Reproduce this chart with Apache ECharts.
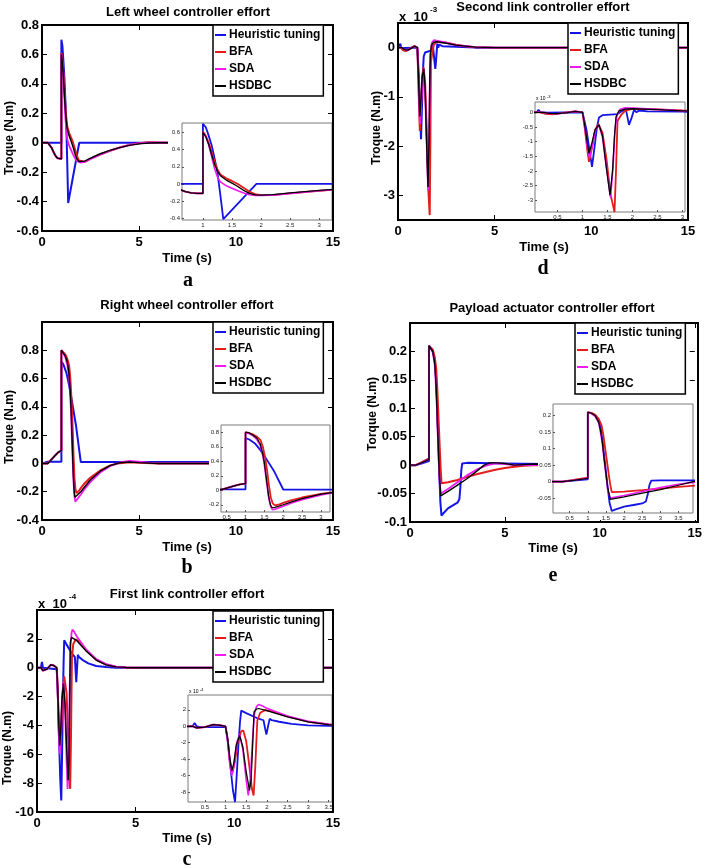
<!DOCTYPE html>
<html><head><meta charset="utf-8">
<script src="https://cdn.jsdelivr.net/npm/echarts@6/dist/echarts.min.js"></script>
<style>html,body{margin:0;padding:0;background:#fff}#c{width:705px;height:868px}</style>
</head><body><div id="c"></div>
<script>
// ---------------- data ----------------
const seriesNames = ['Heuristic tuning', 'BFA', 'SDA', 'HSDBC'];
const mainXTicks = [0, 5, 10, 15];

// (a) Left wheel controller effort
const aHeur = [[0,0],[1,0],[1,0.70],[1.05,0.66],[1.1,0.56],[1.15,0.45],[1.2,0.3],[1.25,0.13],[1.3,-0.13],[1.35,-0.41],[1.92,0],[15,0]];
const aBFA = [[0,0],[0.3,0],[0.4,-0.012],[0.5,-0.035],[0.6,-0.065],[0.7,-0.09],[0.8,-0.105],[0.9,-0.11],[1,-0.11],[1,0.61],[1.05,0.56],[1.1,0.48],[1.15,0.37],[1.2,0.26],[1.25,0.17],[1.3,0.11],[1.4,0.065],[1.5,0.035],[1.6,0],[1.7,-0.045],[1.8,-0.09],[1.9,-0.12],[2,-0.13],[2.2,-0.13],[2.5,-0.11],[3,-0.08],[3.5,-0.055],[4,-0.033],[4.5,-0.015],[5,-0.003],[5.5,0.003],[6,0.002],[6.5,0],[15,0]];
const aSDA = [[0,0],[0.3,0],[0.4,-0.012],[0.5,-0.035],[0.6,-0.065],[0.7,-0.09],[0.8,-0.105],[0.9,-0.11],[1,-0.11],[1,0.6],[1.05,0.55],[1.1,0.45],[1.15,0.32],[1.2,0.18],[1.25,0.08],[1.3,0.025],[1.4,-0.02],[1.5,-0.05],[1.6,-0.08],[1.7,-0.105],[1.8,-0.125],[1.9,-0.135],[2,-0.135],[2.2,-0.13],[2.5,-0.11],[3,-0.08],[3.5,-0.055],[4,-0.033],[4.5,-0.015],[5,-0.004],[5.5,0.002],[6,0.001],[6.5,0],[15,0]];
const aHSDBC = [[0,0],[0.3,0],[0.4,-0.012],[0.5,-0.035],[0.6,-0.065],[0.7,-0.09],[0.8,-0.105],[0.9,-0.11],[1,-0.11],[1,0.6],[1.05,0.55],[1.1,0.46],[1.15,0.34],[1.2,0.23],[1.25,0.15],[1.3,0.095],[1.4,0.045],[1.5,0.01],[1.6,-0.03],[1.7,-0.075],[1.8,-0.11],[1.9,-0.128],[2,-0.13],[2.2,-0.125],[2.5,-0.105],[3,-0.075],[3.5,-0.052],[4,-0.033],[4.5,-0.018],[5,-0.008],[5.5,-0.002],[6,0],[15,0]];
const aYTicks = [-0.6,-0.4,-0.2,0,0.2,0.4,0.6,0.8];
const aInsetXTicks = [1,1.5,2,2.5,3];
const aInsetYTicks = [-0.4,-0.2,0,0.2,0.4,0.6];

// (b) Right wheel controller effort
const bHeur = [[0,0],[0.3,0.012],[1,0.012],[1,0.72],[1.1,0.7],[1.26,0.64],[1.4,0.55],[1.53,0.45],[1.75,0.27],[2,0.01],[15,0.01]];
const bBFA = [[0,0],[0.3,0],[0.5,0.03],[0.7,0.06],[0.85,0.08],[1,0.09],[1,0.8],[1.1,0.79],[1.2,0.77],[1.3,0.74],[1.4,0.69],[1.46,0.6],[1.52,0.45],[1.57,0.28],[1.62,0.07],[1.67,-0.1],[1.72,-0.18],[1.78,-0.21],[1.9,-0.195],[2,-0.175],[2.2,-0.14],[2.5,-0.1],[3,-0.05],[3.5,-0.015],[4,0.002],[4.5,0.008],[5,0.005],[6,0],[15,0]];
const bSDA = [[0,0],[0.3,0],[0.5,0.03],[0.7,0.06],[0.85,0.08],[1,0.09],[1,0.8],[1.1,0.78],[1.2,0.75],[1.3,0.7],[1.39,0.62],[1.45,0.5],[1.5,0.35],[1.56,0.1],[1.62,-0.12],[1.67,-0.23],[1.72,-0.27],[1.8,-0.26],[2,-0.22],[2.2,-0.18],[2.5,-0.13],[3,-0.065],[3.5,-0.02],[4,0.008],[4.5,0.018],[5,0.012],[5.5,0.005],[6,0],[15,0]];
const bHSDBC = [[0,0],[0.3,0],[0.5,0.03],[0.7,0.06],[0.85,0.08],[1,0.09],[1,0.8],[1.1,0.79],[1.2,0.76],[1.3,0.72],[1.39,0.64],[1.45,0.52],[1.5,0.38],[1.56,0.14],[1.61,-0.07],[1.66,-0.2],[1.7,-0.24],[1.78,-0.235],[2,-0.2],[2.2,-0.165],[2.5,-0.115],[3,-0.055],[3.5,-0.015],[4,0.005],[4.5,0.01],[5,0.006],[6,0],[15,0]];
const bYTicks = [-0.4,-0.2,0,0.2,0.4,0.6,0.8];
const bInsetXTicks = [0.5,1,1.5,2,2.5,3];
const bInsetYTicks = [-0.2,0,0.2,0.4,0.6,0.8];

// (c) First link controller effort (x 10^-4)
const cHeur = [[0,0],[0.2,0],[0.25,0.4],[0.3,0],[0.4,-0.1],[1,-0.1],[1.06,-2],[1.12,-5],[1.18,-7.8],[1.23,-9.2],[1.27,-6],[1.31,-2.5],[1.35,0.5],[1.38,1.9],[1.5,1.6],[1.76,1.0],[1.92,0.73],[1.96,-0.3],[1.99,-1.0],[2.03,0],[2.07,0.9],[2.12,0.75],[2.3,0.55],[2.6,0.3],[3,0.12],[3.5,0.05],[4,0],[15,0]];
const cBFA = [[0,0],[0.2,0],[0.3,-0.2],[0.5,-0.1],[0.7,0.2],[0.85,0.15],[1,0],[1.05,-1.5],[1.1,-4],[1.17,-5.6],[1.22,-4.5],[1.3,-1.8],[1.38,-0.6],[1.43,-0.5],[1.5,-1.8],[1.58,-5],[1.64,-7.6],[1.68,-8.4],[1.72,-5],[1.75,-1.5],[1.77,0.7],[1.84,1.65],[1.96,1.96],[2.1,1.85],[2.5,1.2],[3,0.55],[3.5,0.22],[4,0.07],[4.5,0.02],[5,0],[15,0]];
const cSDA = [[0,0],[0.2,0],[0.3,-0.2],[0.5,-0.1],[0.7,0.2],[0.85,0.15],[1,0],[1.05,-1.8],[1.1,-4.5],[1.15,-6],[1.2,-4.8],[1.27,-2],[1.34,-1],[1.42,-2.8],[1.5,-6.5],[1.55,-8.4],[1.6,-6.5],[1.65,-2],[1.7,1.5],[1.75,2.4],[1.8,2.65],[1.9,2.45],[2,2.2],[2.5,1.25],[3,0.6],[3.5,0.25],[4,0.08],[4.5,0.02],[5,0],[15,0]];
const cHSDBC = [[0,0],[0.2,0],[0.3,-0.2],[0.5,-0.1],[0.7,0.2],[0.85,0.15],[1,0],[1.05,-1.5],[1.1,-3.8],[1.15,-5.4],[1.2,-4.5],[1.26,-2.3],[1.34,-1.1],[1.42,-2.5],[1.5,-5.5],[1.58,-7.8],[1.62,-6.5],[1.66,-2],[1.69,1.75],[1.75,2.1],[1.8,2.16],[2,1.9],[2.5,1.14],[3,0.53],[3.5,0.2],[4,0.06],[4.5,0.02],[5,0],[15,0]];
const cYTicks = [-10,-8,-6,-4,-2,0,2];
const cInsetXTicks = [0.5,1,1.5,2,2.5,3,3.5];
const cInsetYTicks = [-8,-6,-4,-2,0,2];

// (d) Second link controller effort (x 10^-3)
const dHeur = [[0,0],[0.08,0],[0.12,0.08],[0.16,0],[0.3,-0.01],[1,0],[1.08,-0.6],[1.14,-1.3],[1.19,-1.86],[1.24,-1.2],[1.29,-0.5],[1.33,-0.18],[1.4,-0.1],[1.7,-0.06],[1.8,0.05],[1.87,0.08],[1.93,-0.43],[1.98,-0.2],[2.03,0.08],[2.08,0],[2.13,0.06],[2.3,0.03],[3,0.02],[4,0],[15,0]];
const dBFA = [[0,0],[0.15,0],[0.25,-0.05],[0.4,-0.07],[0.55,-0.04],[0.7,0],[0.85,0.03],[1,0],[1.05,-0.6],[1.1,-1.35],[1.13,-1.69],[1.18,-1.3],[1.25,-0.6],[1.32,-0.4],[1.4,-0.7],[1.48,-1.6],[1.56,-2.8],[1.64,-3.4],[1.67,-2.0],[1.7,-0.3],[1.77,-0.1],[1.85,0.05],[2,0.12],[2.5,0.1],[3,0.06],[3.5,0.03],[4,0.01],[5,0],[15,0]];
const dSDA = [[0,0],[0.2,0],[0.35,-0.04],[0.5,-0.05],[0.7,-0.01],[0.85,0.03],[1,0],[1.05,-0.55],[1.1,-1.25],[1.14,-1.55],[1.19,-1.2],[1.26,-0.6],[1.33,-0.45],[1.4,-0.85],[1.48,-1.9],[1.56,-2.9],[1.61,-1.9],[1.65,-0.6],[1.69,-0.1],[1.75,0.1],[1.85,0.15],[2,0.14],[2.5,0.1],[3,0.05],[3.5,0.03],[4,0.01],[5,0],[15,0]];
const dHSDBC = [[0,0],[0.2,0],[0.35,-0.04],[0.5,-0.05],[0.7,-0.01],[0.85,0.03],[1,0],[1.05,-0.5],[1.1,-1.1],[1.13,-1.4],[1.18,-1.1],[1.25,-0.6],[1.33,-0.43],[1.4,-0.8],[1.47,-1.8],[1.55,-2.83],[1.6,-2.0],[1.64,-0.8],[1.67,-0.15],[1.73,0.05],[1.85,0.11],[2,0.12],[2.5,0.09],[3,0.05],[3.5,0.03],[4,0.01],[5,0],[15,0]];
const dYTicks = [-3,-2,-1,0];
const dInsetXTicks = [0.5,1,1.5,2,2.5,3];
const dInsetYTicks = [-3,-2.5,-2,-1.5,-1,-0.5,0];

// (e) Payload actuator controller effort
const eHeur = [[0,0],[0.3,0],[0.6,0.003],[1,0.007],[1,0.21],[1.1,0.207],[1.2,0.2],[1.3,0.185],[1.35,0.165],[1.4,0.13],[1.45,0.08],[1.5,0.03],[1.55,-0.02],[1.6,-0.065],[1.66,-0.089],[1.75,-0.085],[2,-0.076],[2.3,-0.07],[2.5,-0.066],[2.6,-0.06],[2.65,-0.04],[2.7,-0.01],[2.75,0.003],[3,0.004],[5,0.003],[7,0.002],[15,0.002]];
const eBFA = [[0,0],[0.3,0],[0.6,0.005],[1,0.012],[1,0.21],[1.1,0.208],[1.2,0.203],[1.3,0.19],[1.38,0.17],[1.43,0.14],[1.48,0.1],[1.53,0.06],[1.58,0.02],[1.62,-0.01],[1.66,-0.032],[2,-0.03],[2.5,-0.026],[3,-0.021],[3.5,-0.016],[4,-0.012],[4.5,-0.008],[5,-0.005],[5.5,-0.003],[6,-0.001],[6.5,0],[15,0]];
const eSDA = [[0,0],[0.3,0],[0.6,0.004],[1,0.01],[1,0.21],[1.1,0.206],[1.2,0.198],[1.3,0.178],[1.35,0.15],[1.4,0.115],[1.45,0.065],[1.5,0.02],[1.55,-0.025],[1.62,-0.05],[2,-0.042],[2.5,-0.03],[3,-0.018],[3.5,-0.008],[4,-0.001],[4.5,0.003],[5,0.002],[5.5,0],[15,0]];
const eHSDBC = [[0,0],[0.3,0],[0.6,0.004],[1,0.01],[1,0.21],[1.1,0.207],[1.2,0.2],[1.3,0.18],[1.35,0.155],[1.4,0.12],[1.45,0.07],[1.5,0.025],[1.55,-0.02],[1.62,-0.054],[2,-0.046],[2.5,-0.035],[3,-0.024],[3.5,-0.011],[3.9,0],[4.2,0.004],[4.6,0.004],[5,0.003],[5.5,0],[6.5,0.002],[15,0]];
const eYTicks = [-0.1,-0.05,0,0.05,0.1,0.15,0.2];
const eInsetXTicks = [0.5,1,1.5,2,2.5,3,3.5];
const eInsetYTicks = [-0.05,0,0.05,0.1,0.15,0.2];

// ---------------- layout ----------------
const panels = [
  {title:'Left wheel controller effort', ylab:'Troque (N.m)', letter:'a', data:[aHeur,aBFA,aSDA,aHSDBC],
   main:[42,25,291,206], ymin:-0.6, ymax:0.8, yTicks:aYTicks,
   inset:[182,123,150,97], ix:[0.64,3.22], iy:[-0.42,0.71], ixt:aInsetXTicks, iyt:aInsetYTicks,
   cover:[168,120,164,110], legend:[213,25],
   titlePos:[188,12], ylabPos:[10,138], xlabPos:[187,258], letterPos:[188,281]},
  {title:'Right wheel controller effort', ylab:'Troque (N.m)', letter:'b', data:[bHeur,bBFA,bSDA,bHSDBC],
   main:[42,322,291,198], ymin:-0.4, ymax:1.0, yTicks:bYTicks,
   inset:[221,425,109,87], ix:[0.35,3.24], iy:[-0.3,0.9], ixt:bInsetXTicks, iyt:bInsetYTicks,
   cover:[209,419,123,100], legend:[213,322],
   titlePos:[187,305], ylabPos:[10,427], xlabPos:[187,547], letterPos:[187,568]},
  {title:'First link controller effort', ylab:'Troque (N.m)', letter:'c', data:[cHeur,cBFA,cSDA,cHSDBC],
   main:[37,610,296,202], ymin:-10, ymax:4, yTicks:cYTicks,
   inset:[188,695,144,107], ix:[0.09,3.58], iy:[-9.2,3.8], ixt:cInsetXTicks, iyt:cInsetYTicks,
   cover:[177,686,155,125], legend:[213,611], exp:'-4', insetExp:'-4',
   titlePos:[187,594], ylabPos:[8,748], xlabPos:[187,838], letterPos:[187,860]},
  {title:'Second link controller effort', ylab:'Troque (N.m)', letter:'d', data:[dHeur,dBFA,dSDA,dHSDBC],
   main:[398,23,290,197], ymin:-3.5, ymax:0.5, yTicks:dYTicks,
   inset:[535,102,150,110], ix:[0.05,3.05], iy:[-3.4,0.35], ixt:dInsetXTicks, iyt:dInsetYTicks,
   cover:[521,95,166,124], legend:[568,23], exp:'-3', insetExp:'-3',
   titlePos:[543,7], ylabPos:[377,128], xlabPos:[544,247], letterPos:[543,269]},
  {title:'Payload actuator controller effort', ylab:'Torque (N.m)', letter:'e', data:[eHeur,eBFA,eSDA,eHSDBC],
   main:[410,323,288,199], ymin:-0.1, ymax:0.25, yTicks:eYTicks,
   inset:[553,404,140,109], ix:[0.04,3.9], iy:[-0.095,0.235], ixt:eInsetXTicks, iyt:eInsetYTicks,
   cover:[538,399,158,121], legend:[575,323],
   titlePos:[552,308], ylabPos:[373,414], xlabPos:[553,548], letterPos:[553,576]}
];

const FONT = '"Liberation Sans", Arial, Helvetica, sans-serif';
const colors = ['#1414e6', '#e41c1c', '#f01af0', '#000000'];
const widths = [2, 2, 1.8, 1.4];
const fmt = v => String(+(+v).toFixed(4));

const grids = [], xAxes = [], yAxes = [], series = [], legends = [], graphics = [];

function txt(x, y, text, font, opts) {
  opts = opts || {};
  const el = {
    type: 'text', x: x, y: y, z: opts.z || 20, silent: true,
    style: { text: text, font: font, fill: '#000', textAlign: opts.align || 'center', align: opts.align || 'center',
             textVerticalAlign: 'middle', verticalAlign: 'middle' }
  };
  if (opts.rotation) el.rotation = opts.rotation;
  return el;
}

const noLine = { show: false, onZero: false };

panels.forEach((p) => {
  // main grid
  const gm = grids.length;
  grids.push({ left: p.main[0], top: p.main[1], width: p.main[2], height: p.main[3], show: false, containLabel: false });
  const tickStyle = { inside: true, length: 5, lineStyle: { color: '#000', width: 1 } };
  const xi = xAxes.length, yi = yAxes.length;
  xAxes.push({ type: 'value', gridIndex: gm, position: 'bottom', min: 0, max: 15, z: 1,
    axisLine: noLine, splitLine: { show: false },
    axisTick: Object.assign({ customValues: mainXTicks }, tickStyle),
    axisLabel: { customValues: mainXTicks, formatter: fmt, fontFamily: FONT, fontWeight: 'bold', fontSize: 13, color: '#000', margin: 5 } });
  yAxes.push({ type: 'value', gridIndex: gm, position: 'left', min: p.ymin, max: p.ymax, z: 1,
    axisLine: noLine, splitLine: { show: false },
    axisTick: Object.assign({ customValues: p.yTicks }, tickStyle),
    axisLabel: { customValues: p.yTicks, formatter: fmt, fontFamily: FONT, fontWeight: 'bold', fontSize: 13, color: '#000', margin: 3 } });
  xAxes.push({ type: 'value', gridIndex: gm, position: 'top', min: 0, max: 15, z: 1,
    axisLine: noLine, splitLine: { show: false }, axisLabel: { show: false },
    axisTick: Object.assign({ customValues: mainXTicks }, tickStyle) });
  yAxes.push({ type: 'value', gridIndex: gm, position: 'right', min: p.ymin, max: p.ymax, z: 1,
    axisLine: noLine, splitLine: { show: false }, axisLabel: { show: false },
    axisTick: Object.assign({ customValues: p.yTicks }, tickStyle) });
  p.data.forEach((d, k) => {
    series.push({ type: 'line', name: seriesNames[k], xAxisIndex: xi, yAxisIndex: yi, data: d,
      showSymbol: false, symbol: 'none', clip: true, silent: true, z: 2 + k * 0.1,
      lineStyle: { color: colors[k], width: widths[k] }, itemStyle: { color: colors[k] } });
  });
  // inset grid
  const gi = grids.length;
  const ixi = xAxes.length, iyi = yAxes.length;
  grids.push({ left: p.inset[0], top: p.inset[1], width: p.inset[2], height: p.inset[3], show: true,
               borderColor: '#7a7a7a', borderWidth: 1, backgroundColor: '#fff', z: 11, containLabel: false });
  xAxes.push({ type: 'value', gridIndex: gi, position: 'bottom', min: p.ix[0], max: p.ix[1], z: 12,
    axisLine: noLine, splitLine: { show: false },
    axisTick: { inside: true, length: 2, lineStyle: { color: '#555', width: 1 }, customValues: p.ixt },
    axisLabel: { customValues: p.ixt, formatter: fmt, fontFamily: FONT, fontSize: 6, color: '#222', margin: 2 } });
  yAxes.push({ type: 'value', gridIndex: gi, position: 'left', min: p.iy[0], max: p.iy[1], z: 12,
    axisLine: noLine, splitLine: { show: false },
    axisTick: { inside: true, length: 2, lineStyle: { color: '#555', width: 1 }, customValues: p.iyt },
    axisLabel: { customValues: p.iyt, formatter: fmt, fontFamily: FONT, fontSize: 6, color: '#222', margin: 2 } });
  p.data.forEach((d, k) => {
    series.push({ type: 'line', name: seriesNames[k], xAxisIndex: ixi, yAxisIndex: iyi, data: d,
      showSymbol: false, symbol: 'none', clip: true, silent: true, z: 13 + k * 0.1,
      lineStyle: { color: colors[k], width: widths[k] * 0.9 }, itemStyle: { color: colors[k] } });
  });
  // legend
  legends.push({ data: seriesNames, orient: 'vertical', left: p.legend[0], top: p.legend[1],
    backgroundColor: '#fff', borderColor: '#000', borderWidth: 1.5, padding: [3, 3, 3, 2],
    itemGap: 3, itemWidth: 11, itemHeight: 2, icon: 'rect', selectedMode: false, z: 30,
    textStyle: { fontFamily: FONT, fontWeight: 'bold', fontSize: 12, color: '#000', lineHeight: 14, padding: [0,0,0,-2] } });
  // cover + frame + texts
  graphics.push({ type: 'rect', silent: true, z: 10, shape: { x: p.cover[0], y: p.cover[1], width: p.cover[2], height: p.cover[3] }, style: { fill: '#fff' } });
  graphics.push({ type: 'rect', silent: true, z: 16, shape: { x: p.main[0], y: p.main[1], width: p.main[2], height: p.main[3] },
                  style: { fill: 'none', stroke: '#000', lineWidth: 2 } });
  graphics.push(txt(p.titlePos[0], p.titlePos[1], p.title, 'bold 13px ' + FONT));
  graphics.push(txt(p.ylabPos[0], p.ylabPos[1], p.ylab, 'bold 12px ' + FONT, { rotation: Math.PI / 2 }));
  graphics.push(txt(p.xlabPos[0], p.xlabPos[1], 'Time (s)', 'bold 13px ' + FONT));
  graphics.push(txt(p.letterPos[0], p.letterPos[1], p.letter, 'bold 20px "Liberation Serif", "Times New Roman", serif'));
  if (p.exp) {
    graphics.push(txt(p.main[0] + 1, p.main[1] - 6, 'x  10', 'bold 13px ' + FONT, { align: 'left' }));
    graphics.push(txt(p.main[0] + 32, p.main[1] - 13, p.exp, 'bold 8px ' + FONT, { align: 'left' }));
  }
  if (p.insetExp) {
    graphics.push(txt(p.inset[0] + 1, p.inset[1] - 3, 'x 10', '5px ' + FONT, { align: 'left', z: 25 }));
    graphics.push(txt(p.inset[0] + 12, p.inset[1] - 5, p.insetExp, '4px ' + FONT, { align: 'left', z: 25 }));
  }
});

const chart = echarts.init(document.getElementById('c'), null, { renderer: 'canvas', width: 705, height: 868 });
chart.setOption({
  animation: false,
  backgroundColor: '#fff',
  grid: grids, xAxis: xAxes, yAxis: yAxes, series: series, legend: legends,
  graphic: { elements: graphics }
});
</script>
</body></html>
